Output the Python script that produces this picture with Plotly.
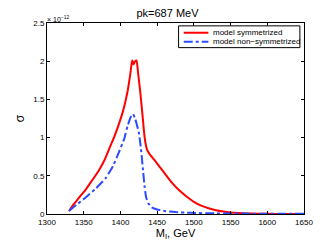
import plotly.graph_objects as go

# Values in units of 1e-12
m_sym = [1330, 1335, 1340, 1345, 1352, 1360, 1370, 1378, 1385, 1392, 1398, 1403, 1407, 1410, 1413, 1415, 1416, 1418, 1420, 1422, 1424, 1427, 1430, 1433, 1436, 1440, 1447, 1454, 1462, 1470, 1480, 1490, 1500, 1510, 1520, 1530, 1540, 1550, 1560, 1575, 1600, 1625, 1650]
s_sym = [0.04, 0.11, 0.17, 0.23, 0.31, 0.42, 0.56, 0.70, 0.86, 1.02, 1.18, 1.33, 1.48, 1.62, 1.80, 1.95, 2.01, 1.96, 2.00, 2.01, 1.85, 1.60, 1.30, 1.00, 0.85, 0.78, 0.70, 0.61, 0.51, 0.41, 0.31, 0.23, 0.16, 0.11, 0.075, 0.05, 0.033, 0.02, 0.012, 0.006, 0.002, 0.001, 0.0]

m_non = [1330, 1340, 1352, 1366, 1380, 1390, 1398, 1405, 1410, 1414, 1417, 1420, 1425, 1428, 1431, 1433, 1435, 1438, 1442, 1450, 1460, 1475, 1495, 1530, 1580, 1650]
s_non = [0.04, 0.12, 0.21, 0.33, 0.47, 0.63, 0.81, 0.98, 1.16, 1.27, 1.31, 1.25, 1.07, 0.85, 0.55, 0.35, 0.22, 0.14, 0.09, 0.06, 0.04, 0.025, 0.015, 0.008, 0.004, 0.002]

x_ticks = [1300, 1350, 1400, 1450, 1500, 1550, 1600, 1650]
y_ticks = [0, 0.5, 1, 1.5, 2, 2.5]
y_tick_labels = ["0", "0.5", "1", "1.5", "2", "2.5"]
series_names = ["model symmetrized", "model non\u2212symmetrized"]
series_colors = ["#ff0000", "#2a4bff"]
series_dash = ["solid", "dashdot"]

fig = go.Figure()
fig.add_trace(go.Scatter(x=m_sym, y=s_sym, mode="lines", name=series_names[0], showlegend=False,
                         line=dict(color=series_colors[0], width=2, dash=series_dash[0], shape="spline", smoothing=0.4)))
fig.add_trace(go.Scatter(x=m_non, y=s_non, mode="lines", name=series_names[1], showlegend=False,
                         line=dict(color=series_colors[1], width=2, dash=series_dash[1], shape="spline", smoothing=0.4)))

axis_common = dict(showline=True, linecolor="black", linewidth=1, mirror="ticks",
                   ticks="inside", ticklen=3, tickcolor="black", showgrid=False,
                   zeroline=False, tickfont=dict(family="Liberation Sans, Arial", size=8, color="black"))

fig.update_layout(
    width=319, height=238,
    margin=dict(l=34, r=23, t=11, b=25),
    paper_bgcolor="white", plot_bgcolor="white",
    font=dict(family="Liberation Sans, Arial", color="black"),
    title=dict(text="pk=687 MeV", x=0.5, xanchor="center", y=0.995, yanchor="top",
               font=dict(size=11, color="black")),
    xaxis=dict(range=[1300, 1650], tickvals=x_ticks, **axis_common,
               title=dict(text="M<sub>I</sub>, GeV", font=dict(size=11), standoff=1)),
    yaxis=dict(range=[0, 2.5], tickvals=y_ticks, ticktext=y_tick_labels, **axis_common,
               title=dict(text="σ", font=dict(size=12), standoff=6)),
    showlegend=False,
)

# Legend box drawn by hand (MATLAB style)
lx0, lx1, ly0, ly1 = 0.512, 0.984, 0.871, 0.985
fig.add_shape(type="rect", xref="paper", yref="paper", x0=lx0, x1=lx1, y0=ly0, y1=ly1,
              line=dict(color="black", width=1), fillcolor="white", layer="above")
for i, (nm, col, ds) in enumerate(zip(series_names, series_colors, series_dash)):
    yy = [0.949, 0.902][i]
    fig.add_shape(type="line", xref="paper", yref="paper", x0=0.532, x1=0.628, y0=yy, y1=yy,
                  line=dict(color=col, width=2, dash=ds), layer="above")
    fig.add_annotation(text=nm, xref="paper", yref="paper", x=0.638, y=yy,
                       xanchor="left", yanchor="middle", showarrow=False,
                       font=dict(size=8, color="black"))

fig.add_annotation(text="× 10<sup>−12</sup>", xref="paper", yref="paper", x=0.0, y=1.0,
                   xanchor="left", yanchor="bottom", showarrow=False,
                   font=dict(size=7, color="black"), xshift=-2, yshift=-2)

fig.write_html("out.html")
